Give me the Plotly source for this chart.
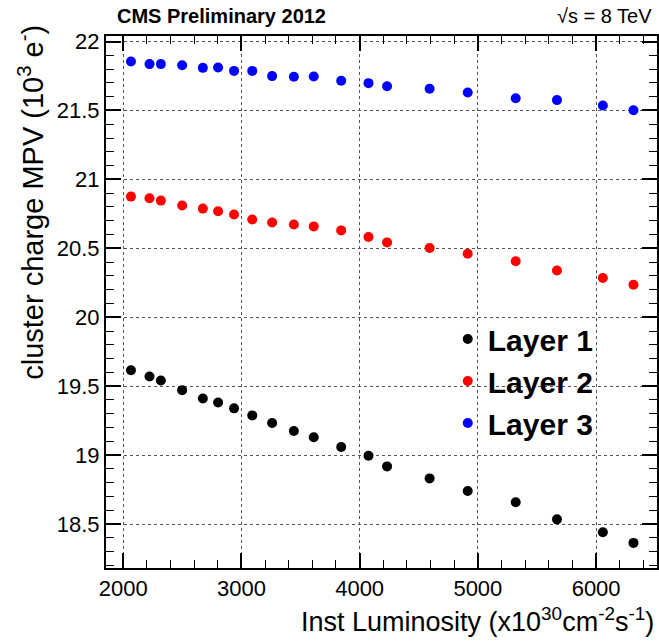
import plotly.graph_objects as go

lumi = [2066, 2223, 2319, 2499, 2674, 2803, 2938, 3092, 3260, 3444,
        3612, 3844, 4075, 4232, 4592, 4914, 5320, 5669, 6057, 6316]
layer1 = [19.616, 19.570, 19.541, 19.471, 19.411, 19.382, 19.339, 19.288, 19.233, 19.175,
          19.129, 19.059, 18.995, 18.918, 18.831, 18.740, 18.658, 18.534, 18.440, 18.363]
layer2 = [20.875, 20.863, 20.846, 20.810, 20.788, 20.769, 20.745, 20.709, 20.687, 20.673,
          20.659, 20.630, 20.582, 20.543, 20.502, 20.461, 20.406, 20.339, 20.284, 20.236]
layer3 = [21.855, 21.836, 21.836, 21.828, 21.809, 21.812, 21.787, 21.787, 21.749, 21.744,
          21.746, 21.715, 21.698, 21.676, 21.657, 21.630, 21.589, 21.575, 21.536, 21.502]
names = ["Layer 1", "Layer 2", "Layer 3"]
colors = ["#000000", "#ff0000", "#0000ff"]

W, H = 659, 643
L, R, T, B = 106, 0, 36, 75
pw, ph = W - L - R, H - T - B


def px(x):
    return (x - L) / pw


def py(y):
    return (H - B - y) / ph


FONT = "Liberation Sans, Arial, Helvetica, sans-serif"

fig = go.Figure()
for i, (name, vals, c) in enumerate(zip(names, [layer1, layer2, layer3], colors)):
    fig.add_trace(go.Scatter(
        x=lumi, y=vals, mode="markers", name=name, legendgroup=name,
        marker=dict(symbol="circle", size=10, color=c, line=dict(width=0)),
    ))

axis_common = dict(
    showline=True, linecolor="black", linewidth=2, mirror="allticks",
    ticks="inside", tickcolor="black", tickwidth=1.5,
    showgrid=True, gridcolor="#555555", griddash="dot", gridwidth=1,
    zeroline=False,
    tickfont=dict(family=FONT, size=22, color="black"),
)

fig.update_xaxes(
    range=[1855, 6515], tickvals=[2000, 3000, 4000, 5000, 6000], ticklen=15,
    minor=dict(dtick=200, tick0=0, ticks="inside", ticklen=8, tickcolor="black", tickwidth=1, showgrid=False),
    **axis_common,
)
fig.update_yaxes(
    range=[18.181, 22.04], tickvals=[18.5, 19, 19.5, 20, 20.5, 21, 21.5, 22],
    ticktext=["18.5", "19", "19.5", "20", "20.5", "21", "21.5", "22"], ticklen=15,
    minor=dict(dtick=0.1, tick0=0, ticks="inside", ticklen=8, tickcolor="black", tickwidth=1, showgrid=False),
    **axis_common,
)

# white legend pad hiding the grid behind the legend (drawn between grid and markers)
fig.add_shape(type="rect", xref="paper", yref="paper", layer="between",
              x0=px(448), x1=px(612), y0=py(447), y1=py(320),
              fillcolor="white", line=dict(width=0))

fig.add_annotation(text="<b>CMS Preliminary 2012</b>", xref="paper", yref="paper",
                   x=px(115), y=py(16), xanchor="left", yanchor="middle", showarrow=False,
                   font=dict(family=FONT, size=20, color="black"))
fig.add_annotation(text="√s = 8 TeV", xref="paper", yref="paper",
                   x=px(656), y=py(16), xanchor="right", yanchor="middle", showarrow=False,
                   font=dict(family=FONT, size=20, color="black"))
fig.add_annotation(text="Inst Luminosity (x10<sup>30</sup>cm<sup>-2</sup>s<sup>-1</sup>)",
                   xref="paper", yref="paper", x=px(658), y=py(620), xanchor="right", yanchor="middle",
                   showarrow=False, font=dict(family=FONT, size=27, color="black"))
fig.add_annotation(text="cluster charge MPV (10<sup>3</sup> e<sup>-</sup>)",
                   xref="paper", yref="paper", x=px(30), y=py(23), xanchor="center", yanchor="top",
                   textangle=-90, showarrow=False, font=dict(family=FONT, size=29, color="black"))

fig.update_layout(
    width=W, height=H, margin=dict(l=L, r=R, t=T, b=B, pad=0),
    paper_bgcolor="white", plot_bgcolor="white",
    showlegend=True,
    legend=dict(x=px(449), y=py(313), xanchor="left", yanchor="top", bgcolor="rgba(0,0,0,0)",
                borderwidth=0, tracegroupgap=4, traceorder="normal",
                font=dict(family=FONT, size=30, color="black", weight="bold")),
)

fig.write_html("out.html")
